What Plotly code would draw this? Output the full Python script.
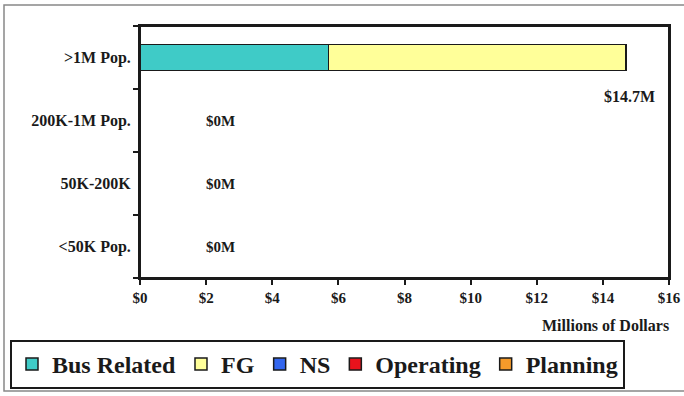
import plotly.graph_objects as go

# Funding by urbanized-area size, millions of dollars
categories = [">1M Pop.", "200K-1M Pop.", "50K-200K", "<50K Pop."]
bus_related = [5.7, 0, 0, 0]
fg = [9.0, 0, 0, 0]
ns = [0, 0, 0, 0]
operating = [0, 0, 0, 0]
planning = [0, 0, 0, 0]
tick_vals = [0, 2, 4, 6, 8, 10, 12, 14, 16]
tick_text = [f"${v}" for v in tick_vals]

series = [
    ("Bus Related", bus_related, "#3FCBC7"),
    ("FG", fg, "#FFFF99"),
    ("NS", ns, "#3366EE"),
    ("Operating", operating, "#E8121C"),
    ("Planning", planning, "#F59A2A"),
]

SERIF = "Liberation Serif"
INK = "#1a1a1a"

totals = [sum(v) for v in zip(bus_related, fg, ns, operating, planning)]
# outline only the rows that actually carry funding, so empty rows stay clean
outline = [1.5 if t > 0 else 0 for t in totals]

fig = go.Figure()
for name, vals, color in series:
    fig.add_trace(go.Bar(
        y=categories, x=vals, name=name, orientation="h",
        marker=dict(color=color, line=dict(color=INK, width=outline)),
        width=0.41,
    ))

for cat, tot in zip(categories, totals):
    if tot > 0:
        fig.add_annotation(x=tot, y=cat, text=f"${tot:.1f}M", showarrow=False,
                           xanchor="center", xshift=3, yshift=-39,
                           font=dict(family=SERIF, size=16, color=INK, weight="bold"))
    else:
        fig.add_annotation(x=tot, y=cat, text=f"${tot:.0f}M", showarrow=False,
                           xanchor="center", xshift=80,
                           font=dict(family=SERIF, size=15, color=INK, weight="bold"))

fig.add_annotation(xref="paper", yref="paper", x=1, y=-0.19, text="Millions of Dollars",
                   showarrow=False, xanchor="right", yanchor="middle", xshift=2,
                   font=dict(family=SERIF, size=16, color=INK, weight="bold"))

fig.update_layout(
    barmode="stack",
    width=684, height=396,
    margin=dict(l=140, r=15, t=26, b=118, autoexpand=False),
    paper_bgcolor="white", plot_bgcolor="white",
    font=dict(family=SERIF, color=INK),
    showlegend=True,
    legend=dict(
        orientation="h", traceorder="normal",
        x=(10 - 140) / 529, y=-(340 - 278) / 252, xanchor="left", yanchor="top",
        bordercolor=INK, borderwidth=2,
        font=dict(family=SERIF, size=24, color=INK, weight="bold"),
        itemwidth=30,
    ),
    xaxis=dict(
        range=[0, 16], tickvals=tick_vals, ticktext=tick_text,
        showgrid=False, zeroline=False,
        showline=True, linecolor=INK, linewidth=2, mirror=True,
        ticks="outside", ticklen=5, tickwidth=2, tickcolor=INK,
        tickfont=dict(family=SERIF, size=15, color=INK, weight="bold"),
    ),
    yaxis=dict(
        categoryorder="array", categoryarray=categories[::-1],
        showgrid=False, zeroline=False,
        showline=True, linecolor=INK, linewidth=2, mirror=True,
        ticks="outside", ticklen=5, tickwidth=2, tickcolor=INK,
        tickson="boundaries", ticklabelstandoff=4,
        tickfont=dict(family=SERIF, size=16, color=INK, weight="bold"),
    ),
    shapes=[
        dict(type="rect", xref="paper", yref="paper",
             x0=-136 / 529, x1=1 + 20 / 529, y0=-113 / 252, y1=1 + 21 / 252,
             line=dict(color="#888888", width=1.5), layer="below"),
        dict(type="rect", xref="paper", yref="paper", x0=0, x1=1, y0=0, y1=1,
             line=dict(color=INK, width=2), layer="above"),
    ],
)

fig.write_html("out.html")
